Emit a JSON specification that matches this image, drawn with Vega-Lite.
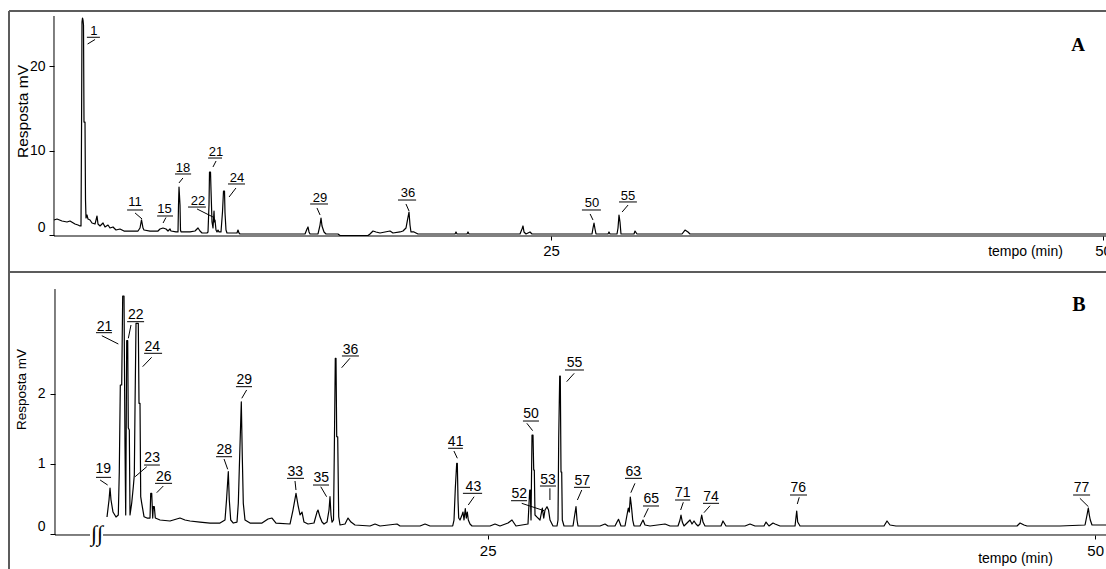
{
"$schema": "https://vega.github.io/schema/vega-lite/v6.json",
"padding": {"left": 8, "top": 10, "right": 0, "bottom": 0},
"background": "white",
"bounds": "flush",
"spacing": 0,
"config": {"view": {"stroke": null}},
"datasets": {
"traceA": [{"t":2.490,"mV":1.78},{"t":2.626,"mV":1.89},{"t":2.853,"mV":1.66},{"t":3.079,"mV":1.54},{"t":3.215,"mV":1.66},{"t":3.441,"mV":1.30},{"t":3.577,"mV":1.18},{"t":3.668,"mV":1.07},{"t":3.713,"mV":1.07},{"t":3.736,"mV":12.0},{"t":3.758,"mV":25.21},{"t":3.781,"mV":25.68},{"t":3.804,"mV":25.44},{"t":3.826,"mV":24.85},{"t":3.849,"mV":13.37},{"t":3.894,"mV":13.37},{"t":3.917,"mV":4.14},{"t":3.940,"mV":2.01},{"t":3.985,"mV":2.37},{"t":4.030,"mV":1.89},{"t":4.121,"mV":1.78},{"t":4.211,"mV":1.42},{"t":4.347,"mV":1.30},{"t":4.438,"mV":2.25},{"t":4.483,"mV":1.30},{"t":4.574,"mV":1.07},{"t":4.710,"mV":1.42},{"t":4.800,"mV":0.95},{"t":4.936,"mV":1.18},{"t":5.026,"mV":0.83},{"t":5.162,"mV":0.95},{"t":5.298,"mV":0.59},{"t":5.479,"mV":0.71},{"t":5.660,"mV":0.47},{"t":5.796,"mV":0.47},{"t":6.295,"mV":0.47},{"t":6.385,"mV":0.83},{"t":6.453,"mV":1.78},{"t":6.521,"mV":0.83},{"t":6.566,"mV":0.59},{"t":6.838,"mV":0.47},{"t":7.200,"mV":0.47},{"t":7.291,"mV":0.71},{"t":7.427,"mV":0.83},{"t":7.563,"mV":0.71},{"t":7.653,"mV":0.47},{"t":7.744,"mV":0.71},{"t":7.789,"mV":0.47},{"t":8.016,"mV":0.36},{"t":8.106,"mV":0.36},{"t":8.129,"mV":3.55},{"t":8.152,"mV":5.68},{"t":8.197,"mV":3.55},{"t":8.219,"mV":0.59},{"t":8.242,"mV":0.36},{"t":8.650,"mV":0.36},{"t":8.876,"mV":0.47},{"t":9.012,"mV":0.83},{"t":9.103,"mV":0.47},{"t":9.193,"mV":0.24},{"t":9.420,"mV":0.24},{"t":9.465,"mV":0.36},{"t":9.510,"mV":3.55},{"t":9.533,"mV":7.45},{"t":9.578,"mV":7.45},{"t":9.601,"mV":5.33},{"t":9.646,"mV":1.54},{"t":9.691,"mV":0.83},{"t":9.737,"mV":2.84},{"t":9.759,"mV":1.54},{"t":9.782,"mV":1.78},{"t":9.827,"mV":0.59},{"t":9.872,"mV":0.36},{"t":9.918,"mV":0.59},{"t":9.963,"mV":0.36},{"t":10.053,"mV":0.36},{"t":10.121,"mV":2.72},{"t":10.167,"mV":5.21},{"t":10.212,"mV":5.21},{"t":10.235,"mV":2.60},{"t":10.280,"mV":0.59},{"t":10.325,"mV":0.24},{"t":10.778,"mV":0.24},{"t":10.823,"mV":0.59},{"t":10.869,"mV":0.24},{"t":10.914,"mV":0.12},{"t":13.858,"mV":0.12},{"t":13.949,"mV":0.71},{"t":13.994,"mV":0.95},{"t":14.039,"mV":0.36},{"t":14.085,"mV":0.12},{"t":14.447,"mV":0.12},{"t":14.538,"mV":1.18},{"t":14.583,"mV":2.01},{"t":14.628,"mV":1.07},{"t":14.719,"mV":0.36},{"t":14.809,"mV":0.12},{"t":15.353,"mV":0.12},{"t":15.443,"mV":-0.06},{"t":16.711,"mV":-0.06},{"t":16.802,"mV":0.12},{"t":16.938,"mV":0.47},{"t":17.073,"mV":0.36},{"t":17.255,"mV":0.24},{"t":17.481,"mV":0.36},{"t":17.708,"mV":0.47},{"t":17.843,"mV":0.24},{"t":18.160,"mV":0.36},{"t":18.296,"mV":0.47},{"t":18.432,"mV":0.83},{"t":18.500,"mV":1.78},{"t":18.568,"mV":2.72},{"t":18.613,"mV":1.18},{"t":18.658,"mV":0.36},{"t":18.794,"mV":0.36},{"t":18.976,"mV":0.12},{"t":20.652,"mV":0.12},{"t":20.697,"mV":0.36},{"t":20.742,"mV":0.12},{"t":21.195,"mV":0.12},{"t":21.240,"mV":0.36},{"t":21.285,"mV":0.12},{"t":23.595,"mV":0.12},{"t":23.685,"mV":0.71},{"t":23.731,"mV":1.07},{"t":23.776,"mV":0.36},{"t":23.867,"mV":0.12},{"t":24.048,"mV":0.36},{"t":24.139,"mV":0.12},{"t":26.856,"mV":0.12},{"t":26.902,"mV":0.83},{"t":26.947,"mV":1.42},{"t":26.992,"mV":0.71},{"t":27.037,"mV":0.12},{"t":27.581,"mV":0.12},{"t":27.626,"mV":0.36},{"t":27.671,"mV":0.12},{"t":27.988,"mV":0.12},{"t":28.034,"mV":0.83},{"t":28.079,"mV":2.37},{"t":28.124,"mV":1.54},{"t":28.169,"mV":0.12},{"t":28.758,"mV":0.12},{"t":28.804,"mV":0.47},{"t":28.894,"mV":0.12},{"t":30.932,"mV":0.12},{"t":31.068,"mV":0.59},{"t":31.204,"mV":0.36},{"t":31.294,"mV":0.12},{"t":50.135,"mV":0.12}],
"traceB": [{"t":9.333,"mV":0.245},{"t":9.416,"mV":0.487},{"t":9.457,"mV":0.657},{"t":9.498,"mV":0.487},{"t":9.580,"mV":0.316},{"t":9.704,"mV":0.245},{"t":9.798,"mV":0.274},{"t":9.839,"mV":0.889},{"t":9.881,"mV":2.121},{"t":9.938,"mV":2.121},{"t":9.979,"mV":3.385},{"t":10.033,"mV":3.385},{"t":10.074,"mV":1.244},{"t":10.103,"mV":0.274},{"t":10.144,"mV":2.750},{"t":10.185,"mV":2.750},{"t":10.210,"mV":1.510},{"t":10.251,"mV":1.481},{"t":10.280,"mV":0.274},{"t":10.350,"mV":0.444},{"t":10.416,"mV":0.676},{"t":10.457,"mV":0.842},{"t":10.486,"mV":1.812},{"t":10.527,"mV":2.997},{"t":10.621,"mV":2.997},{"t":10.650,"mV":1.861},{"t":10.691,"mV":1.861},{"t":10.720,"mV":0.534},{"t":10.761,"mV":0.444},{"t":10.856,"mV":0.250},{"t":10.979,"mV":0.231},{"t":11.103,"mV":0.231},{"t":11.132,"mV":0.582},{"t":11.173,"mV":0.582},{"t":11.214,"mV":0.231},{"t":11.239,"mV":0.392},{"t":11.280,"mV":0.392},{"t":11.321,"mV":0.231},{"t":11.514,"mV":0.203},{"t":11.926,"mV":0.189},{"t":12.337,"mV":0.231},{"t":12.543,"mV":0.203},{"t":12.749,"mV":0.189},{"t":13.160,"mV":0.174},{"t":13.572,"mV":0.160},{"t":13.983,"mV":0.160},{"t":14.189,"mV":0.203},{"t":14.251,"mV":0.487},{"t":14.325,"mV":0.889},{"t":14.366,"mV":0.487},{"t":14.424,"mV":0.203},{"t":14.531,"mV":0.160},{"t":14.683,"mV":0.174},{"t":14.737,"mV":0.440},{"t":14.778,"mV":0.937},{"t":14.860,"mV":1.883},{"t":14.901,"mV":1.102},{"t":14.942,"mV":0.440},{"t":15.012,"mV":0.203},{"t":15.218,"mV":0.160},{"t":15.712,"mV":0.160},{"t":15.959,"mV":0.217},{"t":16.123,"mV":0.231},{"t":16.288,"mV":0.160},{"t":16.864,"mV":0.146},{"t":16.987,"mV":0.345},{"t":17.111,"mV":0.582},{"t":17.193,"mV":0.416},{"t":17.276,"mV":0.274},{"t":17.358,"mV":0.316},{"t":17.440,"mV":0.174},{"t":17.605,"mV":0.146},{"t":17.852,"mV":0.160},{"t":17.975,"mV":0.316},{"t":18.016,"mV":0.345},{"t":18.099,"mV":0.245},{"t":18.181,"mV":0.174},{"t":18.263,"mV":0.146},{"t":18.387,"mV":0.174},{"t":18.469,"mV":0.345},{"t":18.510,"mV":0.534},{"t":18.551,"mV":0.274},{"t":18.593,"mV":0.174},{"t":18.654,"mV":0.203},{"t":18.687,"mV":1.173},{"t":18.728,"mV":2.500},{"t":18.757,"mV":2.500},{"t":18.786,"mV":1.386},{"t":18.827,"mV":1.386},{"t":18.868,"mV":0.250},{"t":18.922,"mV":0.132},{"t":19.128,"mV":0.146},{"t":19.251,"mV":0.231},{"t":19.374,"mV":0.174},{"t":19.539,"mV":0.132},{"t":20.156,"mV":0.118},{"t":20.362,"mV":0.146},{"t":20.568,"mV":0.118},{"t":21.268,"mV":0.146},{"t":21.391,"mV":0.118},{"t":22.214,"mV":0.118},{"t":22.420,"mV":0.146},{"t":22.626,"mV":0.118},{"t":23.560,"mV":0.118},{"t":23.613,"mV":0.203},{"t":23.667,"mV":0.653},{"t":23.724,"mV":1.009},{"t":23.749,"mV":1.009},{"t":23.778,"mV":0.487},{"t":23.806,"mV":0.231},{"t":23.860,"mV":0.203},{"t":23.942,"mV":0.274},{"t":23.983,"mV":0.316},{"t":24.024,"mV":0.203},{"t":24.078,"mV":0.364},{"t":24.119,"mV":0.231},{"t":24.160,"mV":0.316},{"t":24.202,"mV":0.203},{"t":24.272,"mV":0.146},{"t":24.354,"mV":0.118},{"t":25.095,"mV":0.118},{"t":25.300,"mV":0.146},{"t":25.506,"mV":0.118},{"t":25.835,"mV":0.160},{"t":25.999,"mV":0.203},{"t":26.164,"mV":0.118},{"t":26.658,"mV":0.146},{"t":26.728,"mV":0.629},{"t":26.753,"mV":0.629},{"t":26.782,"mV":0.203},{"t":26.823,"mV":1.410},{"t":26.864,"mV":1.410},{"t":26.893,"mV":0.913},{"t":26.918,"mV":0.913},{"t":26.946,"mV":0.274},{"t":27.029,"mV":0.245},{"t":27.152,"mV":0.203},{"t":27.247,"mV":0.373},{"t":27.305,"mV":0.231},{"t":27.358,"mV":0.345},{"t":27.440,"mV":0.392},{"t":27.502,"mV":0.345},{"t":27.564,"mV":0.203},{"t":27.687,"mV":0.118},{"t":27.852,"mV":0.118},{"t":27.893,"mV":0.203},{"t":27.922,"mV":1.368},{"t":27.963,"mV":2.249},{"t":27.987,"mV":2.249},{"t":28.016,"mV":0.885},{"t":28.045,"mV":0.885},{"t":28.070,"mV":0.203},{"t":28.140,"mV":0.118},{"t":28.510,"mV":0.118},{"t":28.580,"mV":0.274},{"t":28.634,"mV":0.392},{"t":28.675,"mV":0.203},{"t":28.716,"mV":0.118},{"t":29.621,"mV":0.118},{"t":29.827,"mV":0.146},{"t":29.950,"mV":0.118},{"t":30.238,"mV":0.118},{"t":30.321,"mV":0.174},{"t":30.383,"mV":0.213},{"t":30.485,"mV":0.118},{"t":30.650,"mV":0.118},{"t":30.732,"mV":0.274},{"t":30.786,"mV":0.373},{"t":30.827,"mV":0.316},{"t":30.868,"mV":0.530},{"t":30.909,"mV":0.416},{"t":30.967,"mV":0.203},{"t":31.021,"mV":0.118},{"t":31.268,"mV":0.118},{"t":31.391,"mV":0.203},{"t":31.473,"mV":0.132},{"t":31.679,"mV":0.118},{"t":32.296,"mV":0.146},{"t":32.502,"mV":0.118},{"t":32.831,"mV":0.118},{"t":32.913,"mV":0.203},{"t":32.954,"mV":0.274},{"t":33.008,"mV":0.174},{"t":33.078,"mV":0.118},{"t":33.243,"mV":0.174},{"t":33.325,"mV":0.203},{"t":33.407,"mV":0.146},{"t":33.490,"mV":0.189},{"t":33.572,"mV":0.146},{"t":33.654,"mV":0.118},{"t":33.736,"mV":0.146},{"t":33.806,"mV":0.274},{"t":33.860,"mV":0.174},{"t":33.942,"mV":0.118},{"t":34.600,"mV":0.118},{"t":34.682,"mV":0.189},{"t":34.806,"mV":0.118},{"t":35.588,"mV":0.118},{"t":35.794,"mV":0.146},{"t":36.000,"mV":0.118},{"t":36.370,"mV":0.118},{"t":36.453,"mV":0.174},{"t":36.576,"mV":0.118},{"t":36.741,"mV":0.160},{"t":36.823,"mV":0.146},{"t":37.029,"mV":0.118},{"t":37.647,"mV":0.118},{"t":37.716,"mV":0.331},{"t":37.757,"mV":0.174},{"t":37.852,"mV":0.118},{"t":39.498,"mV":0.118},{"t":41.309,"mV":0.118},{"t":41.432,"mV":0.189},{"t":41.556,"mV":0.132},{"t":41.800,"mV":0.118},{"t":44.025,"mV":0.118},{"t":46.782,"mV":0.118},{"t":46.906,"mV":0.160},{"t":47.070,"mV":0.132},{"t":47.194,"mV":0.118},{"t":48.552,"mV":0.118},{"t":49.581,"mV":0.132},{"t":49.663,"mV":0.274},{"t":49.716,"mV":0.373},{"t":49.757,"mV":0.274},{"t":49.798,"mV":0.203},{"t":49.868,"mV":0.132},{"t":50.444,"mV":0.132}],
"labelsA": [
{"peak":"1","t":4.30,"mV":24.14,"u1":3.98,"u2":4.57,"uy":23.40,"l1t":4.35,"l1v":23.14,"l2t":4.01,"l2v":22.60},
{"peak":"11","t":6.16,"mV":3.91,"u1":5.80,"u2":6.52,"uy":2.96,"l1t":6.16,"l1v":2.61,"l2t":6.48,"l2v":1.89},
{"peak":"15","t":7.49,"mV":3.08,"u1":7.16,"u2":7.88,"uy":2.25,"l1t":7.56,"l1v":2.07,"l2t":7.43,"l2v":1.42},
{"peak":"18","t":8.33,"mV":7.93,"u1":7.97,"u2":8.70,"uy":7.22,"l1t":8.33,"l1v":6.75,"l2t":8.15,"l2v":6.16},
{"peak":"22","t":9.01,"mV":4.03,"u1":8.56,"u2":9.37,"uy":3.31,"l1t":8.97,"l1v":3.08,"l2t":9.69,"l2v":2.13},
{"peak":"21","t":9.83,"mV":9.82,"u1":9.47,"u2":10.10,"uy":9.11,"l1t":9.83,"l1v":8.76,"l2t":9.69,"l2v":8.05},
{"peak":"24","t":10.78,"mV":6.75,"u1":10.37,"u2":11.14,"uy":6.04,"l1t":10.73,"l1v":5.56,"l2t":10.42,"l2v":4.50},
{"peak":"29","t":14.54,"mV":4.38,"u1":14.09,"u2":14.90,"uy":3.67,"l1t":14.40,"l1v":3.20,"l2t":14.54,"l2v":2.37},
{"peak":"36","t":18.52,"mV":4.97,"u1":18.07,"u2":18.89,"uy":4.14,"l1t":18.43,"l1v":3.67,"l2t":18.57,"l2v":2.84},
{"peak":"50","t":26.86,"mV":3.79,"u1":26.40,"u2":27.26,"uy":2.96,"l1t":26.77,"l1v":2.49,"l2t":26.90,"l2v":1.78},
{"peak":"55","t":28.49,"mV":4.62,"u1":28.08,"u2":28.89,"uy":3.91,"l1t":28.49,"l1v":3.55,"l2t":28.22,"l2v":2.72}],
"labelsB": [
{"peak":"19","t":9.18,"mV":0.934,"u1":8.88,"u2":9.50,"uy":0.809,"l1t":9.05,"l1v":0.771,"l2t":9.36,"l2v":0.700},
{"peak":"21","t":9.23,"mV":2.949,"u1":8.88,"u2":9.54,"uy":2.864,"l1t":9.12,"l1v":2.821,"l2t":9.80,"l2v":2.703},
{"peak":"22","t":10.52,"mV":3.115,"u1":10.16,"u2":10.86,"uy":3.020,"l1t":10.32,"l1v":2.973,"l2t":10.21,"l2v":2.784},
{"peak":"24","t":11.20,"mV":2.665,"u1":10.86,"u2":11.60,"uy":2.571,"l1t":11.17,"l1v":2.514,"l2t":10.80,"l2v":2.381},
{"peak":"23","t":11.19,"mV":1.084,"u1":10.86,"u2":11.51,"uy":0.984,"l1t":10.97,"l1v":0.960,"l2t":10.49,"l2v":0.818},
{"peak":"26","t":11.67,"mV":0.814,"u1":11.31,"u2":12.01,"uy":0.724,"l1t":11.65,"l1v":0.686,"l2t":11.38,"l2v":0.591},
{"peak":"28","t":14.16,"mV":1.197,"u1":13.82,"u2":14.48,"uy":1.102,"l1t":14.15,"l1v":1.069,"l2t":14.30,"l2v":0.923},
{"peak":"29","t":14.98,"mV":2.192,"u1":14.64,"u2":15.30,"uy":2.097,"l1t":15.08,"l1v":2.050,"l2t":14.88,"l2v":1.932},
{"peak":"33","t":17.08,"mV":0.889,"u1":16.74,"u2":17.44,"uy":0.795,"l1t":17.07,"l1v":0.757,"l2t":17.11,"l2v":0.629},
{"peak":"35","t":18.15,"mV":0.795,"u1":17.81,"u2":18.47,"uy":0.700,"l1t":18.13,"l1v":0.676,"l2t":18.37,"l2v":0.534},
{"peak":"36","t":19.35,"mV":2.625,"u1":19.00,"u2":19.70,"uy":2.533,"l1t":19.33,"l1v":2.500,"l2t":18.99,"l2v":2.366},
{"peak":"41","t":23.68,"mV":1.315,"u1":23.37,"u2":23.98,"uy":1.222,"l1t":23.61,"l1v":1.183,"l2t":23.75,"l2v":1.080},
{"peak":"43","t":24.41,"mV":0.668,"u1":23.98,"u2":24.77,"uy":0.582,"l1t":24.44,"l1v":0.534,"l2t":24.20,"l2v":0.416},
{"peak":"50","t":26.78,"mV":1.705,"u1":26.45,"u2":27.11,"uy":1.609,"l1t":26.61,"l1v":1.577,"l2t":26.85,"l2v":1.472},
{"peak":"52","t":26.30,"mV":0.572,"u1":25.96,"u2":26.62,"uy":0.477,"l1t":26.40,"l1v":0.440,"l2t":27.32,"l2v":0.335},
{"peak":"53","t":27.48,"mV":0.771,"u1":27.15,"u2":27.81,"uy":0.686,"l1t":27.56,"l1v":0.653,"l2t":27.56,"l2v":0.487},
{"peak":"55","t":28.57,"mV":2.429,"u1":28.18,"u2":28.96,"uy":2.334,"l1t":28.56,"l1v":2.287,"l2t":28.25,"l2v":2.168},
{"peak":"57","t":28.89,"mV":0.761,"u1":28.55,"u2":29.21,"uy":0.667,"l1t":28.87,"l1v":0.629,"l2t":28.69,"l2v":0.487},
{"peak":"63","t":30.99,"mV":0.889,"u1":30.65,"u2":31.35,"uy":0.795,"l1t":31.06,"l1v":0.724,"l2t":30.89,"l2v":0.591},
{"peak":"65","t":31.73,"mV":0.497,"u1":31.39,"u2":32.05,"uy":0.402,"l1t":31.61,"l1v":0.369,"l2t":31.43,"l2v":0.241},
{"peak":"71","t":33.03,"mV":0.582,"u1":32.71,"u2":33.33,"uy":0.487,"l1t":33.05,"l1v":0.455,"l2t":32.94,"l2v":0.345},
{"peak":"74","t":34.19,"mV":0.534,"u1":33.86,"u2":34.52,"uy":0.440,"l1t":34.15,"l1v":0.406,"l2t":33.90,"l2v":0.307},
{"peak":"76","t":37.78,"mV":0.653,"u1":37.44,"u2":38.14,"uy":0.558,"l1t":37.82,"l1v":0.526,"l2t":37.74,"l2v":0.430},
{"peak":"77","t":49.44,"mV":0.653,"u1":49.09,"u2":49.79,"uy":0.558,"l1t":49.37,"l1v":0.511,"l2t":49.72,"l2v":0.392}],
"frameA": [{"x1":0.452,"x2":50.135,"y1":26.51,"y2":26.51},{"x1":0.452,"x2":0.452,"y1":-4.378,"y2":26.51},{"x1":0.452,"x2":50.135,"y1":-4.378,"y2":-4.378}],
"frameB": [{"x1":5.30,"x2":5.30,"y1":-0.493,"y2":3.726}],
"axesA": [{"x1":2.49,"x2":2.49,"y1":-0.118,"y2":25.92},{"x1":2.49,"x2":50.135,"y1":-0.118,"y2":-0.118}],
"axesB": [{"x1":7.193,"x2":7.193,"y1":-0.01,"y2":3.484},{"x1":7.193,"x2":8.634,"y1":-0.01,"y2":-0.01},{"x1":9.169,"x2":50.444,"y1":-0.01,"y2":-0.01}]
},
"vconcat": [
{
"width": 1097, "height": 261,
"layer": [
{"data":{"name":"traceA"},"mark":{"type":"line","color":"black","strokeWidth":1.2,"strokeJoin":"round"},
 "encoding":{
  "x":{"field":"t","type":"quantitative","scale":{"domain":[0.452,50.135],"nice":false,"zero":false},
   "axis":{"values":[25,50],"format":"d","domain":false,"grid":false,"offset":-36,"tickSize":4,"tickColor":"black","labelFont":"Liberation Sans","labelFontSize":15,"labelColor":"black","labelPadding":3,"labelOverlap":false,"title":"tempo (min)","titleFont":"Liberation Sans","titleFontSize":14,"titleFontWeight":"normal","titleColor":"black","titleX":1016,"titleY":15.5,"titleBaseline":"middle","titleAlign":"center"}},
  "y":{"field":"mV","type":"quantitative","scale":{"domain":[-4.378,26.51],"nice":false,"zero":false},
   "axis":{"values":[0,10,20],"format":"d","domain":false,"grid":false,"offset":-45,"tickSize":5,"tickColor":"black","labelFont":"Liberation Sans","labelFontSize":14,"labelColor":"black","labelPadding":4,"labelOffset":{"condition":{"test":"datum.value === 0","value":-8},"value":0},"title":"Resposta mV","titleFont":"Liberation Sans","titleFontSize":15.5,"titleFontWeight":"normal","titleColor":"black","titleX":-32,"titleY":100,"titleAngle":-90,"titleBaseline":"middle","titleAlign":"center"}}}},
{"data":{"name":"frameA"},"mark":{"type":"rule","color":"#5c5c5c","strokeWidth":2},
 "encoding":{"x":{"field":"x1","type":"quantitative","scale":{"domain":[0.452,50.135],"nice":false,"zero":false}},"x2":{"field":"x2"},"y":{"field":"y1","type":"quantitative","scale":{"domain":[-4.378,26.51],"nice":false,"zero":false}},"y2":{"field":"y2"}}},
{"data":{"name":"axesA"},"mark":{"type":"rule","color":"black","strokeWidth":1},
 "encoding":{"x":{"field":"x1","type":"quantitative","scale":{"domain":[0.452,50.135],"nice":false,"zero":false}},"x2":{"field":"x2"},"y":{"field":"y1","type":"quantitative","scale":{"domain":[-4.378,26.51],"nice":false,"zero":false}},"y2":{"field":"y2"}}},
{"data":{"name":"labelsA"},"mark":{"type":"text","font":"Liberation Sans","fontSize":13,"color":"black","baseline":"middle","align":"center"},
 "encoding":{"x":{"field":"t","type":"quantitative","scale":{"domain":[0.452,50.135],"nice":false,"zero":false}},"y":{"field":"mV","type":"quantitative","scale":{"domain":[-4.378,26.51],"nice":false,"zero":false}},"text":{"field":"peak"}}},
{"data":{"name":"labelsA"},"mark":{"type":"rule","color":"black","strokeWidth":1},
 "encoding":{"x":{"field":"u1","type":"quantitative","scale":{"domain":[0.452,50.135],"nice":false,"zero":false}},"x2":{"field":"u2"},"y":{"field":"uy","type":"quantitative","scale":{"domain":[-4.378,26.51],"nice":false,"zero":false}},"y2":{"field":"uy"}}},
{"data":{"name":"labelsA"},"mark":{"type":"rule","color":"black","strokeWidth":1},
 "encoding":{"x":{"field":"l1t","type":"quantitative","scale":{"domain":[0.452,50.135],"nice":false,"zero":false}},"x2":{"field":"l2t"},"y":{"field":"l1v","type":"quantitative","scale":{"domain":[-4.378,26.51],"nice":false,"zero":false}},"y2":{"field":"l2v"}}},
{"data":{"values":[{"panel":"A","t":48.87,"mV":22.43}]},"mark":{"type":"text","font":"Liberation Serif","fontWeight":"bold","fontSize":19,"color":"black","baseline":"middle","align":"center"},
 "encoding":{"x":{"field":"t","type":"quantitative","scale":{"domain":[0.452,50.135],"nice":false,"zero":false}},"y":{"field":"mV","type":"quantitative","scale":{"domain":[-4.378,26.51],"nice":false,"zero":false}},"text":{"field":"panel"}}}
]
},
{
"width": 1097, "height": 297,
"layer": [
{"data":{"name":"traceB"},"mark":{"type":"line","color":"black","strokeWidth":1.2,"strokeJoin":"round"},
 "encoding":{
  "x":{"field":"t","type":"quantitative","scale":{"domain":[5.30,50.444],"nice":false,"zero":false},
   "axis":{"values":[25,50],"format":"d","domain":false,"grid":false,"offset":-34,"tickSize":4,"tickColor":"black","labelFont":"Liberation Sans","labelFontSize":15,"labelColor":"black","labelPadding":4,"labelOverlap":false,"title":"tempo (min)","titleFont":"Liberation Sans","titleFontSize":14,"titleFontWeight":"normal","titleColor":"black","titleX":1006,"titleY":23,"titleBaseline":"middle","titleAlign":"center"}},
  "y":{"field":"mV","type":"quantitative","scale":{"domain":[-0.493,3.726],"nice":false,"zero":false},
   "axis":{"values":[0,1,2],"format":"d","domain":false,"grid":false,"offset":-46,"tickSize":5,"tickColor":"black","labelFont":"Liberation Sans","labelFontSize":14,"labelColor":"black","labelPadding":5,"labelOffset":{"condition":{"test":"datum.value === 0","value":-8},"value":0},"title":"Resposta mV","titleFont":"Liberation Sans","titleFontSize":13.5,"titleFontWeight":"normal","titleColor":"black","titleX":-34,"titleY":117,"titleAngle":-90,"titleBaseline":"middle","titleAlign":"center"}}}},
{"data":{"name":"frameB"},"mark":{"type":"rule","color":"#5c5c5c","strokeWidth":2},
 "encoding":{"x":{"field":"x1","type":"quantitative","scale":{"domain":[5.30,50.444],"nice":false,"zero":false}},"x2":{"field":"x2"},"y":{"field":"y1","type":"quantitative","scale":{"domain":[-0.493,3.726],"nice":false,"zero":false}},"y2":{"field":"y2"}}},
{"data":{"name":"axesB"},"mark":{"type":"rule","color":"black","strokeWidth":1},
 "encoding":{"x":{"field":"x1","type":"quantitative","scale":{"domain":[5.30,50.444],"nice":false,"zero":false}},"x2":{"field":"x2"},"y":{"field":"y1","type":"quantitative","scale":{"domain":[-0.493,3.726],"nice":false,"zero":false}},"y2":{"field":"y2"}}},
{"data":{"name":"labelsB"},"mark":{"type":"text","font":"Liberation Sans","fontSize":14,"color":"black","baseline":"middle","align":"center"},
 "encoding":{"x":{"field":"t","type":"quantitative","scale":{"domain":[5.30,50.444],"nice":false,"zero":false}},"y":{"field":"mV","type":"quantitative","scale":{"domain":[-0.493,3.726],"nice":false,"zero":false}},"text":{"field":"peak"}}},
{"data":{"name":"labelsB"},"mark":{"type":"rule","color":"black","strokeWidth":1},
 "encoding":{"x":{"field":"u1","type":"quantitative","scale":{"domain":[5.30,50.444],"nice":false,"zero":false}},"x2":{"field":"u2"},"y":{"field":"uy","type":"quantitative","scale":{"domain":[-0.493,3.726],"nice":false,"zero":false}},"y2":{"field":"uy"}}},
{"data":{"name":"labelsB"},"mark":{"type":"rule","color":"black","strokeWidth":1},
 "encoding":{"x":{"field":"l1t","type":"quantitative","scale":{"domain":[5.30,50.444],"nice":false,"zero":false}},"x2":{"field":"l2t"},"y":{"field":"l1v","type":"quantitative","scale":{"domain":[-0.493,3.726],"nice":false,"zero":false}},"y2":{"field":"l2v"}}},
{"data":{"values":[{"panel":"B","t":49.33,"mV":3.257}]},"mark":{"type":"text","font":"Liberation Serif","fontWeight":"bold","fontSize":20,"color":"black","baseline":"middle","align":"center"},
 "encoding":{"x":{"field":"t","type":"quantitative","scale":{"domain":[5.30,50.444],"nice":false,"zero":false}},"y":{"field":"mV","type":"quantitative","scale":{"domain":[-0.493,3.726],"nice":false,"zero":false}},"text":{"field":"panel"}}},
{"data":{"values":[{"sym":"∫∫","t":8.92,"mV":0.0}]},"mark":{"type":"text","font":"Liberation Serif","fontSize":22,"color":"black","baseline":"middle","align":"center"},
 "encoding":{"x":{"field":"t","type":"quantitative","scale":{"domain":[5.30,50.444],"nice":false,"zero":false}},"y":{"field":"mV","type":"quantitative","scale":{"domain":[-0.493,3.726],"nice":false,"zero":false}},"text":{"field":"sym"}}}
]
}
]
}
